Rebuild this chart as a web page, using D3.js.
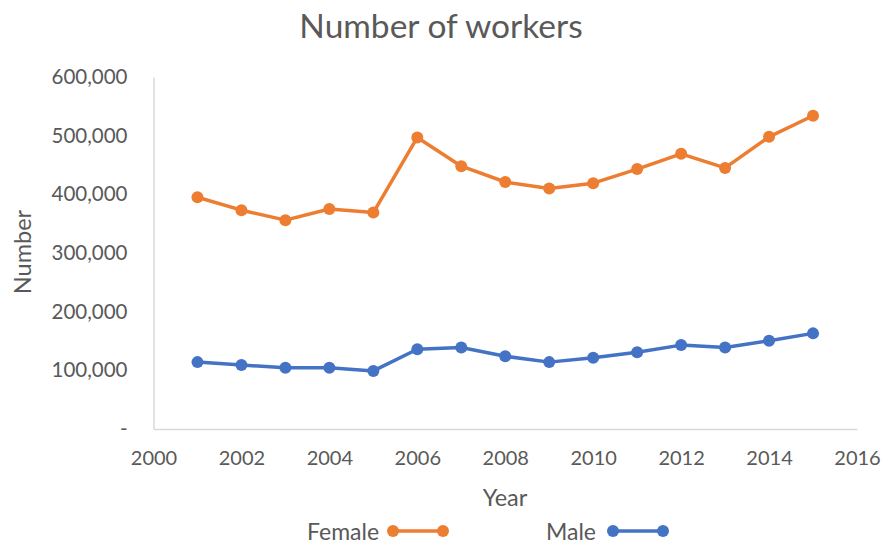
<!DOCTYPE html>
<html>
<head>
<meta charset="utf-8">
<script src="https://cdn.jsdelivr.net/npm/d3@7/dist/d3.min.js"></script>
<style>
  html, body { margin: 0; padding: 0; background: #fff; }
  svg { display: block; font-family: Lato, "Open Sans", sans-serif; }
</style>
</head>
<body>
<svg id="chart" width="884" height="544"></svg>
<script>
// Workers by sex, 2001–2015
const years = [2001, 2002, 2003, 2004, 2005, 2006, 2007, 2008, 2009, 2010, 2011, 2012, 2013, 2014, 2015];
const female = [395000, 373000, 356000, 375000, 369000, 497000, 448000, 421000, 410000, 419000, 443000, 469000, 445000, 498000, 534000];
const male = [114000, 109000, 104500, 104500, 99000, 136000, 139000, 124000, 114000, 121500, 131000, 143000, 139000, 150500, 163000];
const xTicks = [2000, 2002, 2004, 2006, 2008, 2010, 2012, 2014, 2016];
const yTicks = [0, 100000, 200000, 300000, 400000, 500000, 600000];

const seriesList = [
  { name: "Female", values: female, color: "#ED7D31" },
  { name: "Male", values: male, color: "#4472C4" }
];

const svg = d3.select("#chart");
const textColor = "#595959";
const axisColor = "#D9D9D9";

const x = d3.scaleLinear().domain([2000, 2016]).range([153.5, 857]);
const y = d3.scaleLinear().domain([0, 600000]).range([429, 77]);

// Title
svg.append("text")
  .attr("x", 441).attr("y", 25)
  .attr("text-anchor", "middle").attr("dominant-baseline", "central")
  .attr("fill", textColor).attr("font-size", 33.5)
  .text("Number of workers");

// Y axis
const fmt = d3.format(",");
const yAxis = svg.append("g")
  .attr("transform", `translate(${x(2000)},0)`)
  .call(d3.axisLeft(y).tickValues(yTicks).tickSize(0).tickPadding(26)
    .tickFormat(d => d === 0 ? "-" : fmt(d)));
yAxis.select(".domain").attr("stroke", axisColor).attr("stroke-width", 1.5);
yAxis.selectAll("text").attr("fill", textColor).attr("font-size", 20.5)
  .attr("font-family", "Lato, sans-serif");

// X axis
const xAxis = svg.append("g")
  .attr("transform", `translate(0,${y(0)})`)
  .call(d3.axisBottom(x).tickValues(xTicks).tickSize(0).tickPadding(22)
    .tickFormat(d3.format("d")));
xAxis.select(".domain").attr("stroke", axisColor).attr("stroke-width", 1.5);
xAxis.selectAll("text").attr("fill", textColor).attr("font-size", 20)
  .attr("font-family", "Lato, sans-serif");

// Axis titles
svg.append("text")
  .attr("transform", "translate(22,252) rotate(-90)")
  .attr("text-anchor", "middle").attr("dominant-baseline", "central")
  .attr("fill", textColor).attr("font-size", 23.5)
  .text("Number");

svg.append("text")
  .attr("x", 505).attr("y", 497)
  .attr("text-anchor", "middle").attr("dominant-baseline", "central")
  .attr("fill", textColor).attr("font-size", 23.5)
  .text("Year");

// Series lines and markers
const line = d3.line().x((d, i) => x(years[i])).y(d => y(d));
seriesList.forEach(s => {
  svg.append("path")
    .datum(s.values)
    .attr("d", line)
    .attr("fill", "none")
    .attr("stroke", s.color)
    .attr("stroke-width", 3.5)
    .attr("stroke-linejoin", "round");
  svg.append("g").selectAll("circle")
    .data(s.values)
    .join("circle")
    .attr("cx", (d, i) => x(years[i]))
    .attr("cy", d => y(d))
    .attr("r", 6)
    .attr("fill", s.color);
});

// Legend
const legendItems = [
  { label: "Female", textX: 307, lineX: 393, color: "#ED7D31" },
  { label: "Male", textX: 546, lineX: 613, color: "#4472C4" }
];
const ly = 531;
legendItems.forEach(it => {
  const g = svg.append("g");
  g.append("text")
    .attr("x", it.textX).attr("y", ly)
    .attr("dominant-baseline", "central")
    .attr("fill", textColor).attr("font-size", 23)
    .text(it.label);
  g.append("line")
    .attr("x1", it.lineX).attr("x2", it.lineX + 50)
    .attr("y1", ly).attr("y2", ly)
    .attr("stroke", it.color).attr("stroke-width", 3.5);
  [it.lineX, it.lineX + 50].forEach(cx => {
    g.append("circle").attr("cx", cx).attr("cy", ly).attr("r", 6).attr("fill", it.color);
  });
});
</script>
</body>
</html>
